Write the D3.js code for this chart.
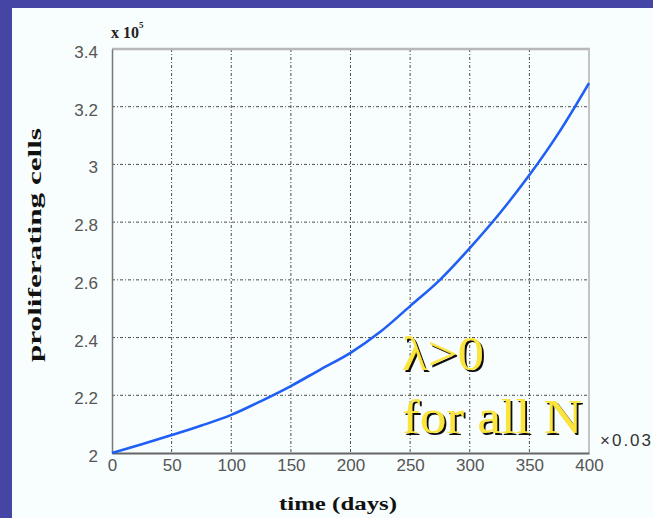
<!DOCTYPE html>
<html>
<head>
<meta charset="utf-8">
<script src="https://cdn.jsdelivr.net/npm/d3@7"></script>
<style>
  html, body { margin: 0; padding: 0; background: #4545a5; overflow: hidden; }
  svg { display: block; }
</style>
</head>
<body>
<div id="chart"></div>
<script>
// time (days) and proliferating cells (x 10^5)
const days = [0, 25, 50, 75, 100, 125, 150, 175, 200, 225, 250, 275, 300, 325, 350, 375, 400];
const cells = [2.0, 2.03, 2.062, 2.095, 2.132, 2.18, 2.232, 2.29, 2.347, 2.42, 2.509, 2.60, 2.71, 2.83, 2.963, 3.112, 3.282];

const xTicks = [0, 50, 100, 150, 200, 250, 300, 350, 400];
const yTicks = [2, 2.2, 2.4, 2.6, 2.8, 3, 3.2, 3.4];
const yTickLabels = ["2", "2.2", "2.4", "2.6", "2.8", "3", "3.2", "3.4"];

const W = 653, H = 518;
const plot = { left: 112, right: 589, top: 49, bottom: 453 };

const svg = d3.select("#chart").append("svg")
  .attr("width", W)
  .attr("height", H);

// drop shadow for the yellow note
svg.append("defs").append("filter")
  .attr("id", "shadow")
  .attr("x", "-10%").attr("y", "-10%")
  .attr("width", "130%").attr("height", "130%")
  .append("feDropShadow")
  .attr("dx", 2).attr("dy", 2)
  .attr("stdDeviation", 0.3)
  .attr("flood-color", "#111")
  .attr("flood-opacity", 1);

// white slide panel
svg.append("rect")
  .attr("x", 12).attr("y", 8)
  .attr("width", W - 12).attr("height", H - 8)
  .attr("fill", "#f8fdfd");

var x = d3.scaleLinear().domain([0, 400]).range([plot.left, plot.right]);
var y = d3.scaleLinear().domain([2, 3.4]).range([plot.bottom, plot.top]);

// gridlines
var grid = svg.append("g")
  .attr("stroke", "#222")
  .attr("stroke-width", 1)
  .attr("stroke-dasharray", "3,2,1,2")
  .attr("opacity", 0.8);

grid.selectAll("line.v")
  .data(xTicks.slice(1, -1))
  .enter().append("line")
  .attr("class", "v")
  .attr("x1", d => x(d)).attr("x2", d => x(d))
  .attr("y1", plot.top).attr("y2", plot.bottom);

grid.selectAll("line.h")
  .data(yTicks.slice(1, -1))
  .enter().append("line")
  .attr("class", "h")
  .attr("x1", plot.left).attr("x2", plot.right)
  .attr("y1", d => y(d)).attr("y2", d => y(d));

// box: light top/right, darker axes
svg.append("line")
  .attr("x1", plot.left).attr("x2", plot.right + 1)
  .attr("y1", plot.top).attr("y2", plot.top)
  .attr("stroke", "#b8b8b8").attr("stroke-width", 2.5);
svg.append("line")
  .attr("x1", plot.right).attr("x2", plot.right)
  .attr("y1", plot.top).attr("y2", plot.bottom)
  .attr("stroke", "#c4c4c4").attr("stroke-width", 2);

var xAxis = d3.axisBottom(x)
  .tickValues(xTicks)
  .tickSize(0)
  .tickPadding(6)
  .tickFormat(d3.format("d"));

var yAxis = d3.axisLeft(y)
  .tickValues(yTicks)
  .tickSize(0)
  .tickPadding(14)
  .tickFormat((d, i) => yTickLabels[i]);

svg.append("g")
  .attr("class", "x axis")
  .attr("transform", "translate(0," + plot.bottom + ")")
  .call(xAxis)
  .call(g => g.select(".domain").attr("stroke", "#666").attr("stroke-width", 2));

svg.append("g")
  .attr("class", "y axis")
  .attr("transform", "translate(" + plot.left + ",0)")
  .call(yAxis)
  .call(g => g.select(".domain").attr("stroke", "#777").attr("stroke-width", 1.5));

svg.selectAll(".axis text")
  .attr("font-family", "Liberation Sans, Arial, sans-serif")
  .attr("font-size", 17)
  .attr("fill", "#555");
svg.selectAll(".y.axis text").attr("dy", "0.5em");

// the curve
var line = d3.line()
  .x((d, i) => x(days[i]))
  .y(d => y(d))
  .curve(d3.curveMonotoneX);

svg.append("path")
  .datum(cells)
  .attr("fill", "none")
  .attr("stroke", "#1f5ff5")
  .attr("stroke-width", 2.6)
  .attr("d", line);

// exponent labels
var expo = svg.append("text")
  .attr("x", 111).attr("y", 38)
  .attr("font-family", "Liberation Serif, serif")
  .attr("font-weight", "bold")
  .attr("font-size", 16)
  .attr("fill", "#222");
expo.append("tspan").text("x 10");
expo.append("tspan").attr("dy", -10).attr("font-size", 9).text("5");

// runs off the right edge, as in the reference
svg.append("text")
  .attr("x", 600).attr("y", 446)
  .attr("font-family", "Liberation Sans, sans-serif")
  .attr("font-size", 17)
  .attr("letter-spacing", 2)
  .attr("fill", "#333")
  .text("×0.03");

// axis titles
svg.append("text")
  .attr("transform", "translate(41,245) rotate(-90)")
  .attr("text-anchor", "middle")
  .attr("font-family", "Liberation Serif, serif")
  .attr("font-weight", "bold")
  .attr("font-size", 19)
  .attr("textLength", 234)
  .attr("lengthAdjust", "spacingAndGlyphs")
  .attr("fill", "#111")
  .text("proliferating cells");

svg.append("text")
  .attr("x", 338).attr("y", 510)
  .attr("text-anchor", "middle")
  .attr("font-family", "Liberation Serif, serif")
  .attr("font-weight", "bold")
  .attr("font-size", 19)
  .attr("textLength", 118)
  .attr("lengthAdjust", "spacingAndGlyphs")
  .attr("fill", "#111")
  .text("time (days)");

// yellow annotation
const notes = [
  { text: "λ>0", x: 402, y: 370, len: 82 },
  { text: "for all N", x: 402, y: 433, len: 180 }
];
svg.selectAll("text.note")
  .data(notes)
  .enter().append("text")
  .attr("class", "note")
  .attr("x", d => d.x).attr("y", d => d.y)
  .attr("font-family", "Liberation Serif, serif")
  .attr("font-size", 48)
  .attr("textLength", d => d.len)
  .attr("lengthAdjust", "spacingAndGlyphs")
  .attr("fill", "#fbe43a")
  .attr("filter", "url(#shadow)")
  .text(d => d.text);
</script>
</body>
</html>
